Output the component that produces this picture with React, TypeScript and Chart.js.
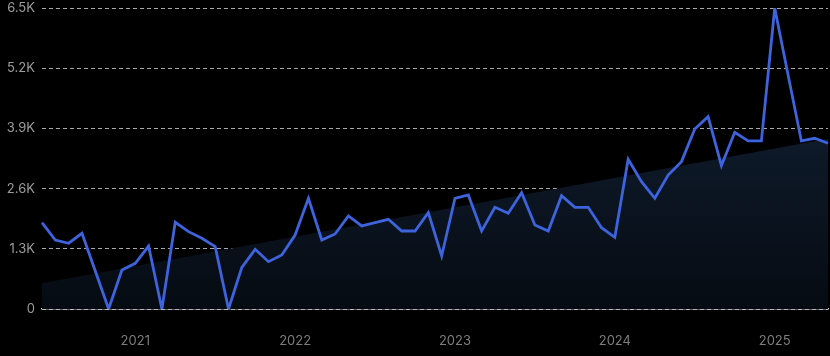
import React, { useEffect, useRef } from "react";
import { Chart, registerables } from "chart.js";

Chart.register(...registerables);

const months: string[] = [
  "2020-06", "2020-07", "2020-08", "2020-09", "2020-10", "2020-11", "2020-12",
  "2021-01", "2021-02", "2021-03", "2021-04", "2021-05", "2021-06", "2021-07", "2021-08", "2021-09", "2021-10", "2021-11", "2021-12",
  "2022-01", "2022-02", "2022-03", "2022-04", "2022-05", "2022-06", "2022-07", "2022-08", "2022-09", "2022-10", "2022-11", "2022-12",
  "2023-01", "2023-02", "2023-03", "2023-04", "2023-05", "2023-06", "2023-07", "2023-08", "2023-09", "2023-10", "2023-11", "2023-12",
  "2024-01", "2024-02", "2024-03", "2024-04", "2024-05", "2024-06", "2024-07", "2024-08", "2024-09", "2024-10", "2024-11", "2024-12",
  "2025-01", "2025-02", "2025-03", "2025-04", "2025-05",
];

const values: number[] = [
  1864, 1490, 1420, 1635, 820, 0, 842,
  987, 1360, 0, 1872, 1670, 1527, 1346, 0, 900, 1289, 1022, 1166,
  1598, 2391, 1490, 1620, 2009, 1793, 1864, 1937, 1684, 1684, 2081, 1145,
  2391, 2462, 1684, 2196, 2067, 2512, 1814, 1684, 2447, 2196, 2196, 1756,
  1548, 3233, 2750, 2391, 2894, 3182, 3888, 4154, 3096, 3816, 3629, 3629,
  6500, 5060, 3629, 3687, 3579,
];

const trendStart = 555;
const trendEnd = 3675;

const yTicks: number[] = [0, 1300, 2600, 3900, 5200, 6500];

export default function App() {
  const ref = useRef<HTMLCanvasElement | null>(null);

  useEffect(() => {
    const canvas = ref.current;
    if (!canvas) return;
    const trendData: (number | null)[] = months.map((_, i) =>
      i === 0 ? trendStart : i === months.length - 1 ? trendEnd : null
    );
    const chart = new Chart(canvas, {
      type: "line",
      data: {
        labels: months,
        datasets: [
          {
            data: values,
            borderColor: "#3d63dd",
            borderWidth: 2.8,
            pointRadius: 0,
            tension: 0,
            fill: false,
            order: 0,
          },
          {
            data: trendData,
            spanGaps: true,
            borderWidth: 0,
            borderColor: "rgba(0,0,0,0)",
            pointRadius: 0,
            fill: "origin",
            order: 1,
            backgroundColor: (ctx: any) => {
              const area = ctx.chart.chartArea;
              if (!area) return "rgba(15,30,50,0.8)";
              const g = ctx.chart.ctx.createLinearGradient(0, area.top, 0, area.bottom);
              g.addColorStop(0, "rgb(22,40,64)");
              g.addColorStop(0.5, "rgb(13,24,39)");
              g.addColorStop(1, "rgb(6,11,18)");
              return g;
            },
          },
        ],
      },
      options: {
        responsive: false,
        animation: false,
        devicePixelRatio: 1,
        layout: { autoPadding: false, padding: { top: 8, right: 2, left: 0, bottom: 0 } },
        plugins: { legend: { display: false }, tooltip: { enabled: false } },
        scales: {
          x: {
            type: "category",
            offset: false,
            grid: { display: false, drawTicks: false },
            border: { display: true, color: "#c8c8c8", width: 1.5 },
            ticks: {
              autoSkip: false,
              maxRotation: 0,
              padding: 24,
              color: "#7e7e7e",
              font: { family: "Inter", size: 13 },
              callback: (_v: any, i: number) =>
                months[i].endsWith("-01") ? months[i].slice(0, 4) : "",
            },
            afterFit: (s: any) => {
              s.height = 47;
              s.paddingLeft = 0;
              s.paddingRight = 0;
            },
          },
          y: {
            min: 0,
            max: 6500,
            afterBuildTicks: (s: any) => {
              s.ticks = yTicks.map((v) => ({ value: v }));
            },
            grid: { color: "rgba(225,225,225,0.75)", drawTicks: false, lineWidth: 1 },
            border: { display: false, dash: [4, 3] },
            ticks: {
              padding: 7,
              color: "#9c9c9c",
              font: { family: "Inter", size: 13 },
              callback: (v: any) => (v === 0 ? "0" : (v / 1000).toFixed(1) + "K"),
            },
            afterFit: (s: any) => {
              s.width = 42;
              s.paddingTop = 0;
              s.paddingBottom = 0;
            },
          },
        },
      },
    });
    return () => chart.destroy();
  }, []);

  return (
    <div
      style={{
        position: "fixed",
        left: 0,
        top: 0,
        width: 830,
        height: 356,
        background: "#000",
      }}
    >
      <canvas ref={ref} width={830} height={356} style={{ display: "block" }} />
    </div>
  );
}
